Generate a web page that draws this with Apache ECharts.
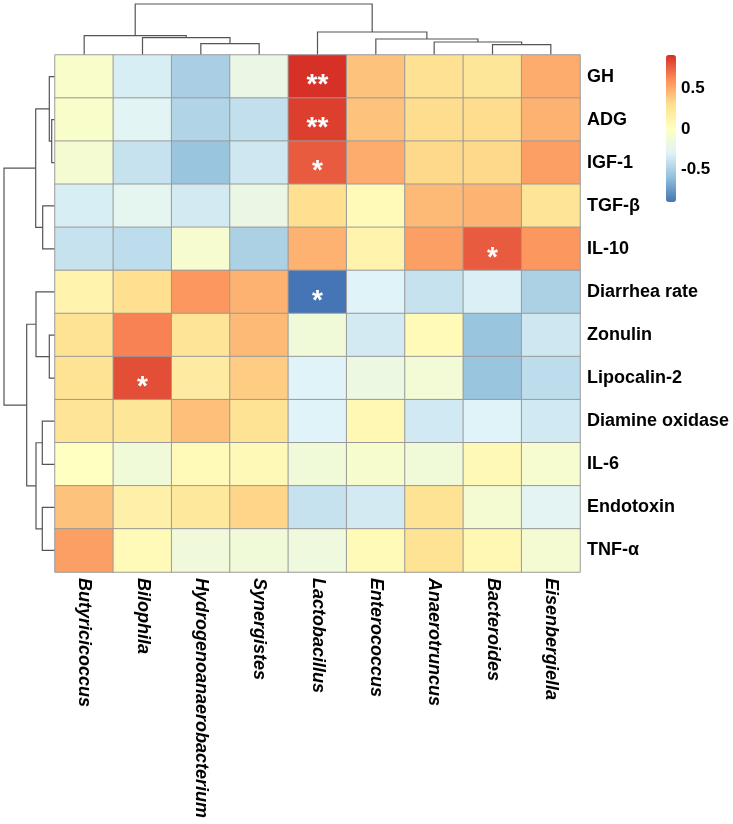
<!DOCTYPE html>
<html>
<head>
<meta charset="utf-8">
<script src="https://cdn.jsdelivr.net/npm/echarts@6/dist/echarts.min.js"></script>
<style>
html,body{margin:0;padding:0;background:#fff;}
#chart{width:733px;height:824px;}
</style>
</head>
<body>
<div id="chart"></div>
<script>
// ---- data ----
const columns = ['Butyricicoccus','Bilophila','Hydrogenoanaerobacterium','Synergistes','Lactobacillus','Enterococcus','Anaerotruncus','Bacteroides','Eisenbergiella'];
const rows = ['GH','ADG','IGF-1','TGF-β','IL-10','Diarrhea rate','Zonulin','Lipocalin-2','Diamine oxidase','IL-6','Endotoxin','TNF-α'];
const values = [
  [-0.05,-0.33,-0.51,-0.20, 0.92, 0.42, 0.30, 0.25, 0.50],
  [-0.05,-0.28,-0.48,-0.42, 0.87, 0.42, 0.32, 0.32, 0.48],
  [-0.10,-0.40,-0.57,-0.37, 0.78, 0.50, 0.34, 0.34, 0.55],
  [-0.33,-0.25,-0.35,-0.20, 0.31, 0.05, 0.45, 0.47, 0.27],
  [-0.40,-0.43,-0.08,-0.50, 0.48, 0.12, 0.55, 0.78, 0.58],
  [ 0.12, 0.31, 0.58, 0.48,-0.91,-0.30,-0.40,-0.32,-0.50],
  [ 0.28, 0.65, 0.27, 0.45,-0.13,-0.35, 0.05,-0.57,-0.37],
  [ 0.28, 0.82, 0.20, 0.38,-0.30,-0.18,-0.12,-0.57,-0.43],
  [ 0.27, 0.25, 0.43, 0.28,-0.30, 0.07,-0.36,-0.30,-0.36],
  [ 0.00,-0.13, 0.05, 0.06,-0.13,-0.07,-0.13, 0.06,-0.08],
  [ 0.42, 0.15, 0.23, 0.35,-0.40,-0.35, 0.28,-0.10,-0.27],
  [ 0.55, 0.05,-0.14,-0.13,-0.16, 0.05, 0.28, 0.07,-0.10]
];
const signif = [
  ['','','','','**','','','',''],
  ['','','','','**','','','',''],
  ['','','','','*','','','',''],
  ['','','','','','','','',''],
  ['','','','','','','','*',''],
  ['','','','','*','','','',''],
  ['','','','','','','','',''],
  ['','*','','','','','','',''],
  ['','','','','','','','',''],
  ['','','','','','','','',''],
  ['','','','','','','','',''],
  ['','','','','','','','','']
];
const legendTicks = [0.5, 0, -0.5];
// dendrograms: [left, right, height]
const colTree = [
  ['Butyricicoccus', ['Bilophila', ['Hydrogenoanaerobacterium','Synergistes',11.3], 17.3], 19.3],
  ['Lactobacillus', ['Enterococcus', ['Anaerotruncus', ['Bacteroides','Eisenbergiella',10.3], 13], 16], 23],
  51
];
const rowTree = [
  [['GH', ['ADG','IGF-1',3.3], 5.7], ['TGF-β','IL-10',12.3], 19.3],
  [['Diarrhea rate', ['Zonulin','Lipocalin-2',5.7], 19], [['Diamine oxidase','IL-6',12.7], ['Endotoxin','TNF-α',12.7], 19], 28.3],
  51
];

// ---- chart ----
const FONT = '"Liberation Sans", Arial, sans-serif';
const heatData = [];
rows.forEach((r, i) => columns.forEach((c, j) => heatData.push([j, i, values[i][j]])));
const flat = values.flat();
const vMin = Math.min(...flat), vMax = Math.max(...flat);

const G = {left: 55, top: 55, width: 525, height: 517};
const VM = {left: 666, top: 55, w: 10, h: 147};

const chart = echarts.init(document.getElementById('chart'), null, {renderer: 'canvas'});
chart.setOption({
  backgroundColor: '#fff',
  animation: false,
  grid: {left: G.left, top: G.top, width: G.width, height: G.height},
  xAxis: {
    type: 'category', data: columns, position: 'bottom',
    axisLine: {show: false}, axisTick: {show: false}, splitLine: {show: false},
    axisLabel: {rotate: -90, margin: 6, fontFamily: FONT, fontSize: 18, fontWeight: 'bold', fontStyle: 'italic', color: '#000', interval: 0}
  },
  yAxis: {
    type: 'category', data: rows, inverse: true, position: 'right',
    axisLine: {show: false}, axisTick: {show: false}, splitLine: {show: false},
    axisLabel: {margin: 7, fontFamily: FONT, fontSize: 18, fontWeight: 'bold', color: '#000', interval: 0}
  },
  visualMap: {
    type: 'continuous', min: vMin, max: vMax, calculable: false, realtime: false,
    left: VM.left, top: VM.top, itemWidth: VM.w, itemHeight: VM.h, padding: 0,
    text: ['', ''], showLabel: false, hoverLink: false,
    inRange: {color: ['#4575B4','#91BFDB','#E0F3F8','#FFFFBF','#FEE090','#FC8D59','#D73027']}
  },
  series: [{
    type: 'heatmap', data: heatData,
    itemStyle: {borderColor: '#9a9a9a', borderWidth: 1},
    emphasis: {disabled: true},
    label: {
      show: true, color: '#fff', fontFamily: FONT, fontSize: 28, fontWeight: 'bold', offset: [0, 9],
      formatter: p => signif[p.data[1]][p.data[0]]
    }
  }]
});

// dendrograms + legend tick labels
const graphics = [];
const LINE = {stroke: '#555', lineWidth: 1.2};
function drawTree(node, leafPos, toPix, scale) {
  if (typeof node === 'string') return {p: leafPos(node), h: 0};
  const a = drawTree(node[0], leafPos, toPix, scale);
  const b = drawTree(node[1], leafPos, toPix, scale);
  const H = node[2];
  graphics.push({type: 'polyline', silent: true, shape: {points: [
    toPix(a.p, a.h * scale), toPix(a.p, H * scale), toPix(b.p, H * scale), toPix(b.p, b.h * scale)
  ]}, style: LINE});
  return {p: (a.p + b.p) / 2, h: H};
}
const dendroSpan = 51;
drawTree(colTree,
  name => chart.convertToPixel({xAxisIndex: 0}, name),
  (p, d) => [p, G.top - d], dendroSpan / colTree[2]);
drawTree(rowTree,
  name => chart.convertToPixel({yAxisIndex: 0}, name),
  (p, d) => [G.left - d, p], dendroSpan / rowTree[2]);

legendTicks.forEach(t => {
  const y = VM.top + (vMax - t) / (vMax - vMin) * VM.h;
  graphics.push({type: 'text', silent: true, x: VM.left + VM.w + 5, y: y,
    style: {text: String(t), fontFamily: FONT, fontSize: 17, fontWeight: 'bold', fill: '#000', verticalAlign: 'middle', align: 'left'}});
});
chart.setOption({graphic: graphics});
</script>
</body>
</html>
